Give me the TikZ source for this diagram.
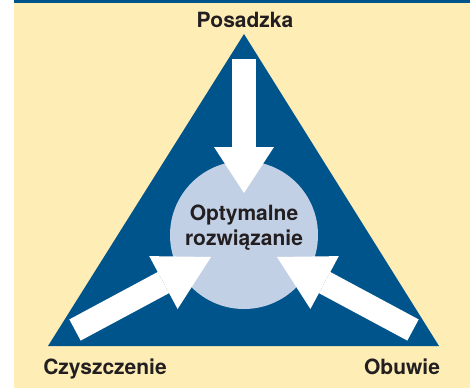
\documentclass[tikz,border=0pt]{standalone}
\usepackage{fontspec}
\setmainfont{TeX Gyre Heros}
\usetikzlibrary{arrows.meta}
\definecolor{cream}{RGB}{255,237,182}
\definecolor{navy}{RGB}{0,84,140}
\definecolor{haze}{RGB}{194,208,230}
\definecolor{ink}{RGB}{35,31,32}

\begin{document}
\begin{tikzpicture}[x=1pt,y=-1pt,
    corner/.style={font=\fontsize{21}{25}\selectfont\bfseries,text=ink,inner sep=0pt},
    hub/.style={circle,fill=haze,minimum size=148pt,inner sep=0pt},
    flow/.style={white,line width=24pt,-{Triangle[width=60pt,length=#1,line width=0pt]}},
    flow/.default=50pt]
    \useasboundingbox (0,0) rectangle (470,388);
    \fill[cream] (14,0) rectangle (470,388);
    \fill[navy] (14,0) rectangle (470,2.5);

    % the triangle
    \coordinate (apex) at (244,34);
    \coordinate (lcorner) at (48,346);
    \coordinate (rcorner) at (439,346);
    \fill[navy] (apex) -- (rcorner) -- (lcorner) -- cycle;

    \node[hub] (hub) at (244,235) {};
    \node[corner,align=center] (hubtext) at (244,228) {Optymalne\\rozwiązanie};

    \node[corner,anchor=base] (floor) at (245,27) {Posadzka};
    \node[corner,anchor=base] (clean) at (105,374) {Czyszczenie};
    \node[corner,anchor=base] (shoes) at (402,374) {Obuwie};

    % arrows into the middle
    \coordinate (floorin) at (244,59);
    \coordinate (floortip) at (244,193);
    \coordinate (cleanin) at (75,330);
    \coordinate (cleantip) at (211,257);
    \coordinate (shoesin) at (413,330);
    \coordinate (shoestip) at (277,257);

    \draw[flow=46pt] (floorin) -- (floortip);
    \draw[flow=54pt] (cleanin) -- (cleantip);
    \draw[flow=54pt] (shoesin) -- (shoestip);
\end{tikzpicture}
\end{document}
